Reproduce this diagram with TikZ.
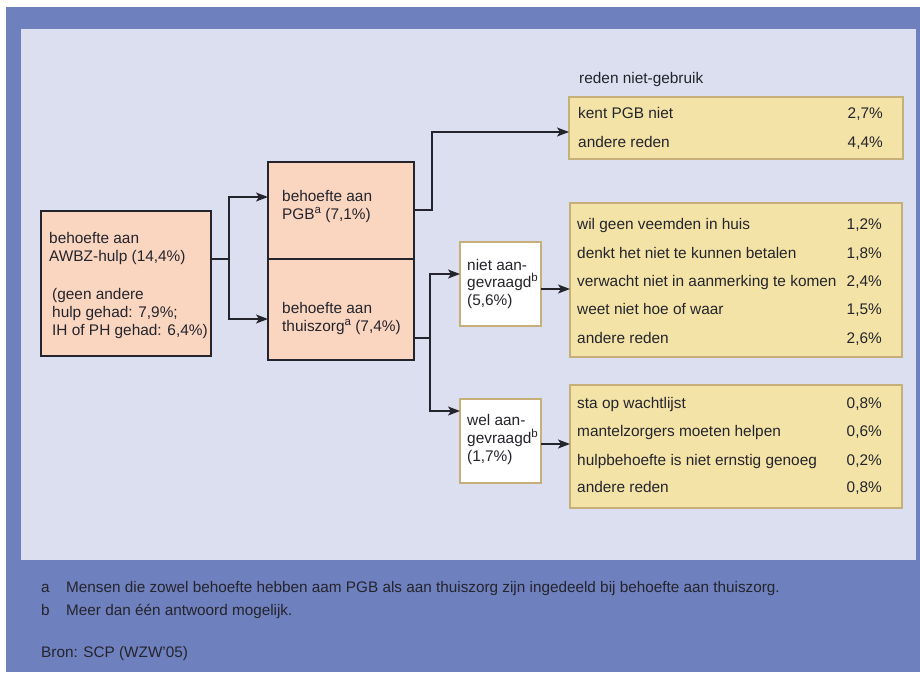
\documentclass[tikz,border=0pt]{standalone}
\usepackage{fontspec}
\setmainfont{Liberation Sans}
\usetikzlibrary{arrows.meta,calc}
\definecolor{outerblue}{HTML}{6F80BE}
\definecolor{innerpane}{HTML}{DCDFF0}
\definecolor{salmon}{HTML}{FAD6C1}
\definecolor{sand}{HTML}{F4E3A7}
\definecolor{tanline}{HTML}{C7AF7A}
\definecolor{ink}{HTML}{24242C}
\newcommand\supmark[1]{\raisebox{0.36em}{\fontsize{11.5}{11.5}\selectfont #1}}
\begin{document}
\begin{tikzpicture}[x=1pt,y=-1pt,
  font=\fontsize{15.4}{18}\selectfont, text=ink,
  boxbase/.style={anchor=north west, inner sep=0pt, outer sep=0pt, line width=1.4pt},
  salmonbox/.style={boxbase, draw=ink, fill=salmon},
  reasonbox/.style={boxbase, draw=tanline, fill=sand},
  askbox/.style={boxbase, draw=tanline, fill=white},
  conn/.style={draw=ink, line width=1.3pt},
  arr/.style={conn, -{Stealth[length=12pt,width=9pt,inset=3pt]}},
  txt/.style={anchor=base west, inner sep=0pt},
  pct/.style={anchor=base east, inner sep=0pt},
  note/.style={anchor=base west, inner sep=0pt, font=\fontsize{15.3}{18}\selectfont}]
\useasboundingbox (0,0) rectangle (920,672);
\fill[white] (0,0) rectangle (920,672);
\fill[outerblue] (6,7) rectangle (920,672);
\fill[innerpane] (21,29) rectangle (916,560);

% boxes
\node[salmonbox, minimum width=170pt, minimum height=145pt] (awbz) at (41,211) {};
\node[salmonbox, minimum width=146pt, minimum height=97pt] (pgb) at (268,162) {};
\node[salmonbox, minimum width=146pt, minimum height=101pt] (thuis) at (268,259) {};
\node[askbox, minimum width=81pt, minimum height=84pt] (niet) at (460,242) {};
\node[askbox, minimum width=81pt, minimum height=84pt] (wel) at (460,399) {};
\node[reasonbox, minimum width=334pt, minimum height=62pt] (ra) at (569,97) {};
\node[reasonbox, minimum width=332pt, minimum height=154pt] (rb) at (570,203) {};
\node[reasonbox, minimum width=332pt, minimum height=123pt] (rc) at (570,385) {};

% texts in salmon boxes
\node[txt] (aw1) at (49,243) {behoefte aan};
\node[txt] (aw2) at (49,261) {AWBZ-hulp (14,4\%)};
\node[txt] (aw3) at (52,299) {(geen andere};
\node[txt] (aw4) at (52,317) {hulp gehad: 7,9\%;};
\node[txt] (aw5) at (52,335) {IH of PH gehad: 6,4\%)};
\node[txt] (pg1) at (282,201) {behoefte aan};
\node[txt] (pg2) at (282,219) {PGB\supmark{a} (7,1\%)};
\node[txt] (th1) at (282,313) {behoefte aan};
\node[txt] (th2) at (282,331) {thuiszorg\supmark{a} (7,4\%)};

% texts in white boxes
\node[txt] (ni1) at (467,270) {niet aan-};
\node[txt] (ni2) at (467,287) {gevraagd\supmark{b}};
\node[txt] (ni3) at (467,305) {(5,6\%)};
\node[txt] (we1) at (467,425) {wel aan-};
\node[txt] (we2) at (467,443) {gevraagd\supmark{b}};
\node[txt] (we3) at (467,461) {(1,7\%)};

% reasons
\node[txt] (head) at (579,83) {reden niet-gebruik};
\foreach \t/\p/\b [count=\i] in {{kent PGB niet}/{2,7\%}/118, {andere reden}/{4,4\%}/147}
  {\node[txt] (rat\i) at (578,\b) {\t}; \node[pct] (rap\i) at (883,\b) {\p};}
\foreach \t/\p/\b [count=\i] in {{wil geen veemden in huis}/{1,2\%}/229,
   {denkt het niet te kunnen betalen}/{1,8\%}/258,
   {verwacht niet in aanmerking te komen}/{2,4\%}/286,
   {weet niet hoe of waar}/{1,5\%}/314,
   {andere reden}/{2,6\%}/343}
  {\node[txt] (rbt\i) at (577,\b) {\t}; \node[pct] (rbp\i) at (882,\b) {\p};}
\foreach \t/\p/\b [count=\i] in {{sta op wachtlijst}/{0,8\%}/408,
   {mantelzorgers moeten helpen}/{0,6\%}/436,
   {hulpbehoefte is niet ernstig genoeg}/{0,2\%}/465,
   {andere reden}/{0,8\%}/492}
  {\node[txt] (rct\i) at (577,\b) {\t}; \node[pct] (rcp\i) at (882,\b) {\p};}

% connectors
\coordinate (j1) at (229,259);
\draw[conn] (awbz.east |- j1) -- (j1);
\draw[arr] (j1) |- ($(pgb.north west)+(0,35)$);
\draw[arr] (j1) |- ($(thuis.north west)+(0,60)$);
\coordinate (j2) at (432,210);
\draw[arr] (pgb.east |- j2) -- (j2) |- ($(ra.north west)+(0,35)$);
\coordinate (j3) at (430,338);
\draw[conn] (thuis.east |- j3) -- (j3);
\draw[arr] (j3) |- ($(niet.north west)+(0,32)$);
\draw[arr] (j3) |- ($(wel.north west)+(0,12)$);
\draw[arr] ($(niet.north east)+(0,47)$) -- ($(rb.north west)+(0,86)$);
\draw[arr] ($(wel.north east)+(0,45)$) -- ($(rc.north west)+(0,59)$);

% notes
\node[note] (na) at (41,592) {a};
\node[note] (nat) at (66,592) {Mensen die zowel behoefte hebben aam PGB als aan thuiszorg zijn ingedeeld bij behoefte aan thuiszorg.};
\node[note] (nb) at (41,615) {b};
\node[note] (nbt) at (66,615) {Meer dan één antwoord mogelijk.};
\node[note] (src) at (41,657) {Bron: SCP (WZW’05)};
\end{tikzpicture}
\end{document}
